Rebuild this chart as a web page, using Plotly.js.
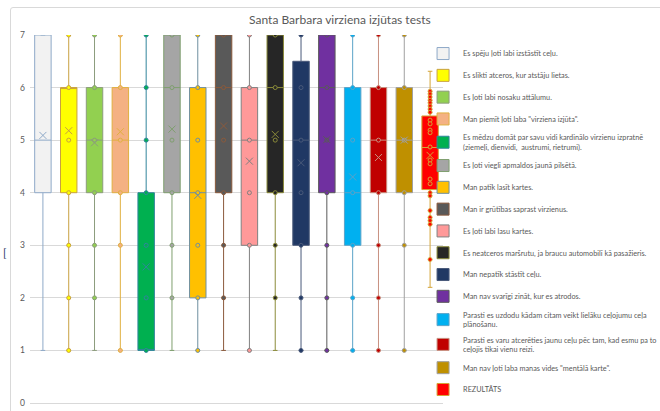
<!DOCTYPE html>
<html><head><meta charset="utf-8">
<script src="https://cdn.plot.ly/plotly-3.0.1.min.js"></script>
<style>
body{margin:0;background:#fff}
#chart{width:660px;height:411px}
#frame{position:absolute;left:10px;top:7px;width:660px;height:420px;border:1px solid #D9D9D9;border-radius:3px;pointer-events:none}
</style>
</head><body>
<div id="chart"></div><div id="frame"></div>
<script>
const categories = [
  'Es spēju ļoti labi izstāstīt ceļu.',
  'Es slikti atceros, kur atstāju lietas.',
  'Es ļoti labi nosaku attālumu.',
  'Man piemīt ļoti laba "virziena izjūta".',
  'Es mēdzu domāt par savu vidi kardinālo virzienu izpratnē<br>(ziemeļi, dienvidi,  austrumi, rietrumi).',
  'Es ļoti viegli apmaldos jaunā pilsētā.',
  'Man patīk lasīt kartes.',
  'Man ir grūtības saprast virzienus.',
  'Es ļoti labi lasu kartes.',
  'Es neatceros maršrutu, ja braucu automobilī kā pasažieris.',
  'Man nepatīk stāstīt ceļu.',
  'Man nav svarīgi zināt, kur es atrodos.',
  'Parasti es uzdodu kādam citam veikt lielāku ceļojumu ceļa<br>plānošanu.',
  'Parasti es varu atcerēties jaunu ceļu pēc tam, kad esmu pa to<br>ceļojis tikai vienu reizi.',
  'Man nav ļoti laba manas vides "mentālā karte".',
  'REZULTĀTS'
];
const q1Values     = [4, 4, 4, 4, 1, 4, 2, 4, 3, 4, 3,   4, 3, 4, 4, 4.06];
const medianValues = [5, 6, 5, 5, 1, 6, 4, 6, 5, 6, 5,   6, 4, 5, 5, 4.86];
const q3Values     = [7, 6, 6, 6, 4, 7, 6, 7, 6, 7, 6.5, 7, 6, 6, 6, 5.46];
const lowerValues  = [1, 1, 1, 1, 1, 1, 1, 1, 1, 1, 1,   1, 1, 1, 1, 2.2];
const upperValues  = [7, 7, 7, 7, 7, 7, 7, 7, 7, 7, 7,   7, 7, 7, 7, 6.31];
const meanValues   = [5.09, 5.18, 4.95, 5.16, 2.59, 5.21, 3.95, 5.27, 4.6, 5.11, 4.57, 5.01, 4.3, 4.67, 5.0, 4.71];
const pointValues = [
  [],
  [7, 6, 5, 4, 3, 2, 1],
  [7, 6, 5, 4, 3, 2],
  [7, 6, 5, 4, 3, 1],
  [7, 6, 5, 4, 3, 2, 1],
  [7, 6, 5, 4, 3, 2],
  [7, 6, 5, 4, 3, 2, 1],
  [7, 6, 5, 4, 3, 2],
  [7, 6, 5, 4, 3, 1],
  [7, 6, 5, 4, 3, 2],
  [7, 6, 5, 4, 3, 2, 1],
  [7, 6, 5, 4, 3, 2, 1],
  [7, 6, 5, 4, 3, 2, 1],
  [7, 6, 5, 4, 3, 2, 1],
  [7, 6, 5, 4, 3, 1],
  [5.93, 5.88, 5.82, 5.76, 5.71, 5.65, 5.59, 5.53, 5.38, 5.31, 5.19, 5.14, 4.87, 4.62, 4.55, 4.26, 4.17, 4.0, 3.94, 3.66, 3.53, 3.47, 3.4, 2.73]
];
const yTicks = [0, 1, 2, 3, 4, 5, 6, 7];

const fillColors = ['#F2F2F2','#FFFF00','#92D050','#F4B183','#00B050','#A5A5A5','#FFC000','#595959','#FF9999','#262626','#203864','#7030A0','#00B0F0','#C00000','#BF9000','#FF0000'];
const lineColors = ['#8EA9C8','#C8A040','#8C9C7C','#E0B040','#31859C','#7F9F6F','#6F8FA0','#8B5A3C','#808080','#8B8B3A','#4A5A7A','#5A5A5A','#5BA3C8','#C89080','#A0A0A0','#D4A437'];

const traces = [];
categories.forEach((name, i) => {
  traces.push({
    type: 'box', name: name, x: [i],
    q1: [q1Values[i]], median: [medianValues[i]], q3: [q3Values[i]],
    lowerfence: [lowerValues[i]], upperfence: [upperValues[i]],
    boxpoints: false, fillcolor: fillColors[i],
    line: {color: lineColors[i], width: 1},
    whiskerwidth: 0.28, legendgroup: 'g' + i, hoverinfo: 'skip'
  });
});
const px = [], py = [], pf = [], pl = [];
pointValues.forEach((arr, i) => arr.forEach(v => { px.push(i); py.push(v); pf.push(fillColors[i]); pl.push(lineColors[i]); }));
traces.push({
  type: 'scatter', mode: 'markers', x: px, y: py, showlegend: false, hoverinfo: 'skip',
  marker: {symbol: 'circle', size: 4, color: pf, line: {color: pl, width: 1}}
});
traces.push({
  type: 'scatter', mode: 'markers', x: categories.map((c, i) => i), y: meanValues, showlegend: false, hoverinfo: 'skip',
  marker: {symbol: 'x-thin-open', size: 7, color: lineColors, line: {color: lineColors, width: 1}}
});

const layout = {
  width: 660, height: 411,
  margin: {l: 30, r: 217, t: 35, b: 8, autoexpand: false},
  paper_bgcolor: '#fff', plot_bgcolor: '#fff',
  font: {family: 'Lato, "Liberation Sans", sans-serif', color: '#595959'},
  title: {text: 'Santa Barbara virziena izjūtas tests', x: 0.515, xref: 'container', y: 0.952, yref: 'container', yanchor: 'middle',
          font: {size: 12, color: '#595959', family: 'Lato, sans-serif'}},
  boxmode: 'overlay', boxgap: 0.09,
  showlegend: true,
  legend: {x: 0.641, xref: 'container', y: 0.905, yref: 'container', yanchor: 'top', xanchor: 'left', maxheight: 400,
           font: {size: 7.3, color: '#595959'}, tracegroupgap: 2.8, bgcolor: 'rgba(0,0,0,0)'},
  xaxis: {range: [-0.5, 15.5], showticklabels: false, showgrid: false, zeroline: false,
          showline: true, linecolor: '#D9D9D9', linewidth: 1, ticks: ''},
  yaxis: {range: [0, 7], tickvals: yTicks, ticktext: yTicks.map(String), showgrid: true, gridcolor: '#D9D9D9', gridwidth: 1,
          zeroline: false, showline: false, ticks: '', tickfont: {size: 8.5, color: '#595959'}, ticklabelstandoff: 4},
  annotations: [{text: '[', xref: 'paper', yref: 'paper', x: -0.06, y: 0.41, showarrow: false,
                 font: {size: 11, color: '#1F3864'}, xanchor: 'center', yanchor: 'middle'}]
};
Plotly.newPlot('chart', traces, layout, {displayModeBar: false, staticPlot: true});
</script>
</body></html>
